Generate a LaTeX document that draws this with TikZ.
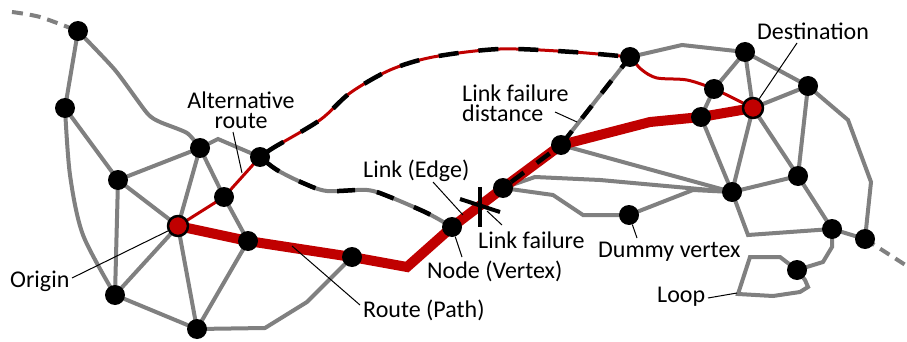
\documentclass[tikz,border=0pt]{standalone}
\usepackage{fontspec}
\setmainfont{Carlito}
\definecolor{rte}{HTML}{C00000}
\definecolor{edg}{HTML}{808080}
\pgfdeclarelayer{bg}
\pgfdeclarelayer{edges}
\pgfsetlayers{bg,edges,main}
\begin{document}
\begin{tikzpicture}[x=1pt,y=-1pt,line join=round,
  vtx/.style={circle,fill=black,minimum size=20pt,inner sep=0pt},
  endv/.style={circle,fill=rte,draw=black,line width=2.5pt,minimum size=20pt,inner sep=0pt},
  gline/.style={draw=edg,line width=4pt},
  gdash/.style={draw=edg,line width=4pt,dash pattern=on 11pt off 7pt},
  rthick/.style={draw=rte,line width=10pt},
  rthin/.style={draw=rte,line width=3pt},
  bdash/.style={draw=black,line width=4.5pt,dash pattern=on 20pt off 20pt},
  lead/.style={draw=black,line width=1pt},
  lbl/.style={font=\fontsize{24}{20}\selectfont,inner sep=0pt},
  fail/.style={draw=black,line width=4pt}]
\begin{pgfonlayer}{bg}
\fill[white] (0,0) rectangle (907,342);
\end{pgfonlayer}
\useasboundingbox (0,0) rectangle (907,342);

% vertices
\node[vtx] (A) at (78,31) {};
\node[vtx] (B) at (65,108) {};
\node[vtx] (C) at (118,180) {};
\node[vtx] (D) at (200,148) {};
\node[vtx] (E) at (260,157) {};
\node[vtx] (F) at (224,197) {};
\node[endv] (O) at (178,226) {};
\node[vtx] (G) at (248,241) {};
\node[vtx] (H) at (115,295) {};
\node[vtx] (I) at (197,329) {};
\node[vtx] (J) at (352,257) {};
\node[vtx] (K) at (452,227) {};
\node[vtx] (L) at (503,188) {};
\node[vtx] (M) at (561,145) {};
\node[vtx] (N) at (630,57) {};
\node[vtx] (P) at (745,52) {};
\node[vtx] (Q) at (714,89) {};
\node[endv] (Dst) at (753,108) {};
\node[vtx] (R) at (701,117) {};
\node[vtx] (S) at (808,86) {};
\node[vtx] (T) at (732,192) {};
\node[vtx] (U) at (798,176) {};
\node[vtx] (V) at (629,215) {};
\node[vtx] (W) at (832,229) {};
\node[vtx] (X) at (865,239) {};
\node[vtx] (Y) at (797,270) {};

\begin{pgfonlayer}{edges}
% gray links
\draw[gdash] plot[smooth] coordinates {(12,12) (40,17) (A.center)};
\draw[gdash] (X.center) -- (907,266);
\draw[gline] (A.center) -- (B.center);
\draw[gline] plot[smooth,tension=0.4] coordinates {(A.center) (115,70) (147,113) (160,122) (187,133) (D.center)};
\draw[gline] plot[smooth,tension=0.5] coordinates {(B.center) (70,175) (83,235) (H.center)};
\draw[gline] (B.center) -- (C.center) -- (D.center);
\draw[gline] (C.center) -- (H.center);
\draw[gline] (C.center) -- (O.center) -- (D.center) -- (F.center) -- (G.center);
\draw[gline] (D.center) -- (218,139) -- (E.center);
\draw[gline] (O.center) -- (H.center) -- (I.center) -- (O.center);
\draw[gline] (G.center) -- (I.center);
\draw[gline] (I.center) -- (265,328) -- (307,302) -- (J.center);
\draw[gline] (M.center) -- (N.center);
\draw[gline] (N.center) -- (682,45) -- (P.center);
\draw[gline] (P.center) -- (Q.center) -- (R.center) -- (T.center);
\draw[gline] (P.center) -- (Dst.center) -- (S.center) -- (P.center);
\draw[gline] (Dst.center) -- (T.center) -- (U.center) -- (Dst.center);
\draw[gline] (S.center) -- (U.center) -- (W.center) -- (X.center);
\draw[gline] (S.center) -- (848,120) -- (871,182) -- (X.center);
\draw[gline] (T.center) -- (748,235) -- (W.center);
\draw[gline] (W.center) -- (832,247) -- (823,262) -- (Y.center);
\draw[gline] (Y.center) -- (780,257) -- (750,257) -- (738,294) -- (773,296) -- (800,292) -- (808,287) -- (805,280) -- (Y.center);
\draw[gline] (M.center) -- (T.center);
\draw[gline] (L.center) -- (535,177) -- (600,180) -- (T.center);
\draw[gline] (L.center) -- (553,195) -- (583,215) -- (V.center);
\draw[gline] (V.center) -- (693,190) -- (T.center);
\draw[gline] plot[smooth,tension=0.5] coordinates {(E.center) (277,170) (303,183) (327,191) (367,190) (390,197) (427,213) (K.center)};
\draw[bdash,dash pattern=on 18pt off 22pt,dash phase=-6pt] plot[smooth,tension=0.5] coordinates {(E.center) (277,170) (303,183) (327,191) (367,190) (390,197) (427,213) (K.center)};
% red routes
\draw[rthin] (O.center) -- (F.center) -- (E.center);
\draw[rthin] plot[smooth,tension=0.5] coordinates {(N.center) (642,70) (657,78) (687,80) (Q.center) (743,103) (Dst.center)};
\draw[rthin] plot[smooth,tension=0.5] coordinates {(E.center) (273,148) (320,120) (350,93) (390,70) (433,57) (500,49) (573,52) (N.center)};
\draw[bdash,dash phase=-8pt] plot[smooth,tension=0.5] coordinates {(E.center) (273,148) (320,120) (350,93) (390,70) (433,57) (500,49) (573,52) (N.center)};
\draw[rthick] (O.center) -- (G.center) -- (J.center) -- (407,267) -- (K.center) -- (L.center) -- (M.center) -- (650,122) -- (R.center) -- (Dst.center);
\draw[bdash,dash pattern=on 16pt off 16pt,dash phase=-10pt] (L.center) -- (M.center) -- (N.center);
% link failure mark
\draw[fail] (480,187) -- (480,227);
\draw[fail] (460,199) -- (500,212);
\end{pgfonlayer}

% labels
\node[lbl,align=center,anchor=north] (lalt) at (241,92) {Alternative\\route};
\node[lbl,anchor=base west] (lorig) at (10,287) {Origin};
\node[lbl,anchor=base west] (lroute) at (363,317) {Route (Path)};
\node[lbl,anchor=base west] (lnode) at (427,278) {Node (Vertex)};
\node[lbl,anchor=base west] (lfail) at (478,248) {Link failure};
\node[lbl,anchor=base west] (llink) at (363,177) {Link (Edge)};
\node[lbl,align=left,anchor=north west] (ldist) at (462,85) {Link failure\\distance};
\node[lbl,anchor=base west] (ldest) at (757,40) {Destination};
\node[lbl,anchor=base west] (ldum) at (598,257) {Dummy vertex};
\node[lbl,anchor=base west] (lloop) at (657,302) {Loop};

% leader lines
\draw[lead] (233,132) -- (242,173);
\draw[lead] (72,278) -- (O);
\draw[lead] (360,305) -- (292,246);
\draw[lead] (462,257) -- (K);
\draw[lead] (502,225) -- (487,211);
\draw[lead] (433,182) -- (463,215);
\draw[lead] (555,112) -- (577,122);
\draw[lead] (797,43) -- (Dst);
\draw[lead] (637,238) -- (V);
\draw[lead] (708,298) -- (737,293);
\end{tikzpicture}
\end{document}
